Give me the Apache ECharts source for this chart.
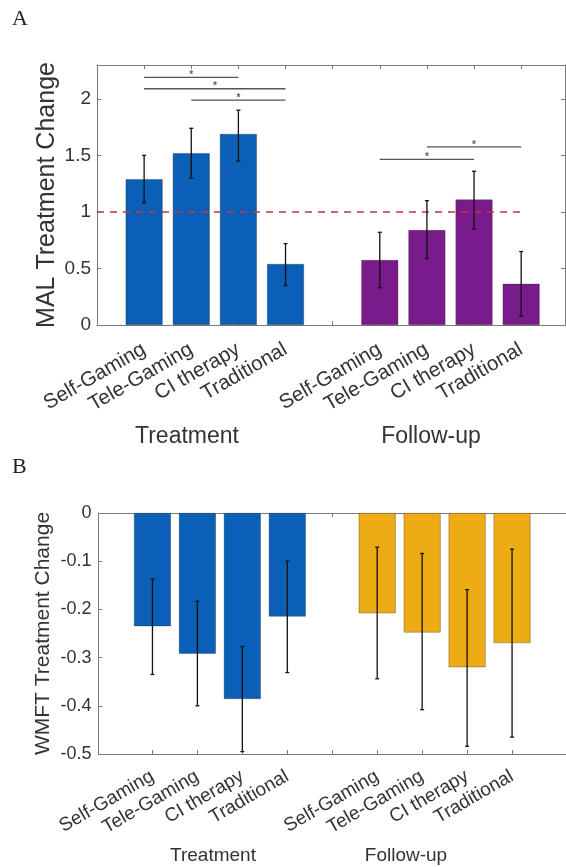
<!DOCTYPE html>
<html>
<head>
<meta charset="utf-8">
<script src="https://cdn.jsdelivr.net/npm/echarts@6/dist/echarts.min.js"></script>
<style>
html,body{margin:0;padding:0;background:#fff;}
#c{width:566px;height:867px;}
</style>
</head>
<body>
<div id="c"></div>
<script>
// ---- data ----
const categoryNames = ['', 'Self-Gaming', 'Tele-Gaming', 'CI therapy', 'Traditional', '', 'Self-Gaming', 'Tele-Gaming', 'CI therapy', 'Traditional'];
const treatmentPos = [1, 2, 3, 4];
const followPos = [6, 7, 8, 9];
const tickPos = [1, 2, 3, 4, 5, 6, 7, 8, 9];
const labelPos = [1, 2, 3, 4, 6, 7, 8, 9];
const groupLabels = ['Treatment', 'Follow-up'];

// Panel A: MAL
const malTreatment = [1.29, 1.52, 1.69, 0.54];
const malTreatmentLow = [1.08, 1.30, 1.45, 0.35];
const malTreatmentHigh = [1.50, 1.74, 1.90, 0.72];
const malFollow = [0.575, 0.84, 1.11, 0.365];
const malFollowLow = [0.33, 0.59, 0.85, 0.08];
const malFollowHigh = [0.82, 1.10, 1.36, 0.65];
const malRef = 1;
const malRefFrom = 0, malRefTo = 9;
const malTicks = ['0', '0.5', '1', '1.5', '2'];

// significance brackets (panel A)
const sigFrom = [1, 1, 2, 6, 7];
const sigTo = [3, 4, 4, 8, 9];
const sigY = [2.19, 2.09, 1.99, 1.466, 1.576];
const sigStarX = [2, 2.5, 3, 7, 8];

// Panel B: WMFT
const wmftTreatment = [-0.235, -0.292, -0.386, -0.215];
const wmftTreatmentLow = [-0.335, -0.40, -0.495, -0.331];
const wmftTreatmentHigh = [-0.137, -0.183, -0.277, -0.10];
const wmftFollow = [-0.208, -0.248, -0.32, -0.27];
const wmftFollowLow = [-0.344, -0.408, -0.484, -0.465];
const wmftFollowHigh = [-0.071, -0.084, -0.159, -0.075];

// ---- build ----
const FONT = '"Liberation Sans", Arial, Helvetica, sans-serif';
const TXT = '#333';
const AX = '#7a7a7a';
const BLUE = '#0a60b6';
const PURPLE = '#7a1b8b';
const ORANGE = '#edab14';

function pairs(xs, ys) { return xs.map((x, i) => [x, ys[i]]); }
function errs(xs, lo, hi) { return xs.map((x, i) => [x, lo[i], hi[i]]); }

function errRender(params, api) {
  const x = api.value(0);
  const p1 = api.coord([x, api.value(2)]);
  const p2 = api.coord([x, api.value(1)]);
  const cw = 2;
  const st = { stroke: '#111', lineWidth: 1.3 };
  return {
    type: 'group',
    children: [
      { type: 'line', shape: { x1: p1[0], y1: p1[1], x2: p2[0], y2: p2[1] }, style: st },
      { type: 'line', shape: { x1: p1[0] - cw, y1: p1[1], x2: p1[0] + cw, y2: p1[1] }, style: st },
      { type: 'line', shape: { x1: p2[0] - cw, y1: p2[1], x2: p2[0] + cw, y2: p2[1] }, style: st }
    ]
  };
}

function xLabelStyle(size, margin) {
  return {
    rotate: 30, fontSize: size, fontFamily: FONT, color: TXT, margin: margin,
    customValues: labelPos,
    formatter: v => categoryNames[Math.round(v)] || ''
  };
}

const grids = [
  { left: 97, top: 65, width: 468, height: 260, containLabel: false },
  { left: 98.5, top: 513, width: 472, height: 241, containLabel: false }
];

const xAxes = [
  { gridIndex: 0, type: 'value', min: 0, max: 9.93, position: 'bottom',
    axisLine: { show: true, onZero: false, lineStyle: { color: AX, width: 1 } },
    axisTick: { show: true, inside: true, length: 4, customValues: tickPos, lineStyle: { color: AX } },
    axisLabel: xLabelStyle(20.5, 23), splitLine: { show: false } },
  { gridIndex: 0, type: 'value', min: 0, max: 9.93, position: 'top',
    axisLine: { show: true, onZero: false, lineStyle: { color: AX, width: 1 } },
    axisTick: { show: true, inside: true, length: 4, customValues: tickPos, lineStyle: { color: AX } },
    axisLabel: { show: false }, splitLine: { show: false } },
  { gridIndex: 1, type: 'value', min: -0.2, max: 10.2, position: 'bottom',
    axisLine: { show: true, onZero: false, lineStyle: { color: AX, width: 1 } },
    axisTick: { show: true, inside: true, length: 4, customValues: tickPos, lineStyle: { color: AX } },
    axisLabel: xLabelStyle(19, 21), splitLine: { show: false } },
  { gridIndex: 1, type: 'value', min: -0.2, max: 10.2, position: 'top',
    axisLine: { show: true, onZero: false, lineStyle: { color: AX, width: 1 } },
    axisTick: { show: true, inside: true, length: 4, customValues: tickPos, lineStyle: { color: AX } },
    axisLabel: { show: false }, splitLine: { show: false } }
];

const yAxes = [
  { gridIndex: 0, type: 'value', min: 0, max: 2.3, interval: 0.5, position: 'left',
    name: 'MAL Treatment Change', nameLocation: 'middle', nameGap: 37, nameMoveOverlap: false,
    nameTextStyle: { fontSize: 25, fontFamily: FONT, color: TXT },
    axisLine: { show: true, onZero: false, lineStyle: { color: AX, width: 1 } },
    axisTick: { show: true, inside: true, length: 4, lineStyle: { color: AX } },
    axisLabel: { fontSize: 19, fontFamily: FONT, color: TXT, margin: 6,
      formatter: v => { const i = Math.round(v / 0.5); return malTicks[i] !== undefined ? malTicks[i] : ''; } },
    splitLine: { show: false } },
  { gridIndex: 0, type: 'value', min: 0, max: 2.3, interval: 0.5, position: 'right',
    axisLine: { show: true, onZero: false, lineStyle: { color: AX, width: 1 } },
    axisTick: { show: true, inside: true, length: 4, lineStyle: { color: AX } },
    axisLabel: { show: false }, splitLine: { show: false } },
  { gridIndex: 1, type: 'value', min: -0.5, max: 0, interval: 0.1, position: 'left',
    name: 'WMFT Treatment Change', nameLocation: 'middle', nameGap: 45, nameMoveOverlap: false,
    nameTextStyle: { fontSize: 21, fontFamily: FONT, color: TXT },
    axisLine: { show: true, onZero: false, lineStyle: { color: AX, width: 1 } },
    axisTick: { show: true, inside: true, length: 4, lineStyle: { color: AX } },
    axisLabel: { fontSize: 18, fontFamily: FONT, color: TXT, margin: 7,
      formatter: v => (Math.abs(v) < 1e-9 ? '0' : v.toFixed(1)) },
    splitLine: { show: false } }
];

const barBase = { type: 'bar', barWidth: 37, barGap: '-100%',
  itemStyle: { borderColor: 'rgba(40,40,40,0.55)', borderWidth: 0.6 } };

const series = [];
// Panel A bars
series.push(Object.assign({}, barBase, { name: 'A-treat', xAxisIndex: 0, yAxisIndex: 0,
  data: pairs(treatmentPos, malTreatment), itemStyle: Object.assign({}, barBase.itemStyle, { color: BLUE }) }));
series.push(Object.assign({}, barBase, { name: 'A-follow', xAxisIndex: 0, yAxisIndex: 0,
  data: pairs(followPos, malFollow), itemStyle: Object.assign({}, barBase.itemStyle, { color: PURPLE }) }));
// reference line
series.push({ type: 'line', xAxisIndex: 0, yAxisIndex: 0, symbol: 'none', z: 5,
  data: [[malRefFrom, malRef], [malRefTo, malRef]],
  lineStyle: { color: '#c8333a', width: 1.6, type: [7, 6] } });
// error bars A
series.push({ type: 'custom', xAxisIndex: 0, yAxisIndex: 0, z: 6, renderItem: errRender,
  encode: { x: 0, y: [1, 2] }, data: errs(treatmentPos, malTreatmentLow, malTreatmentHigh) });
series.push({ type: 'custom', xAxisIndex: 0, yAxisIndex: 0, z: 6, renderItem: errRender,
  encode: { x: 0, y: [1, 2] }, data: errs(followPos, malFollowLow, malFollowHigh) });
// significance brackets
sigFrom.forEach((f, i) => {
  series.push({ type: 'line', xAxisIndex: 0, yAxisIndex: 0, symbol: 'none', z: 5,
    data: [[f, sigY[i]], [sigTo[i], sigY[i]]], lineStyle: { color: '#555', width: 1.3 } });
});
series.push({ type: 'scatter', xAxisIndex: 0, yAxisIndex: 0, symbolSize: 0, z: 6,
  data: pairs(sigStarX, sigY),
  label: { show: true, position: 'top', distance: -3, formatter: '*', fontSize: 10, fontWeight: 'bold', color: '#333', fontFamily: FONT } });

// Panel B bars
series.push(Object.assign({}, barBase, { name: 'B-treat', xAxisIndex: 2, yAxisIndex: 2,
  data: pairs(treatmentPos, wmftTreatment), itemStyle: Object.assign({}, barBase.itemStyle, { color: BLUE }) }));
series.push(Object.assign({}, barBase, { name: 'B-follow', xAxisIndex: 2, yAxisIndex: 2,
  data: pairs(followPos, wmftFollow), itemStyle: Object.assign({}, barBase.itemStyle, { color: ORANGE }) }));
series.push({ type: 'custom', xAxisIndex: 2, yAxisIndex: 2, z: 6, renderItem: errRender,
  encode: { x: 0, y: [1, 2] }, data: errs(treatmentPos, wmftTreatmentLow, wmftTreatmentHigh) });
series.push({ type: 'custom', xAxisIndex: 2, yAxisIndex: 2, z: 6, renderItem: errRender,
  encode: { x: 0, y: [1, 2] }, data: errs(followPos, wmftFollowLow, wmftFollowHigh) });

const serif = '"Liberation Serif", "DejaVu Serif", serif';
const option = {
  animation: false,
  backgroundColor: '#fff',
  grid: grids,
  xAxis: xAxes,
  yAxis: yAxes,
  series: series,
  graphic: [
    { type: 'text', left: 12, top: 8, style: { text: 'A', font: '22px ' + serif, fill: '#222' } },
    { type: 'text', left: 12, top: 456, style: { text: 'B', font: '22px ' + serif, fill: '#222' } },
    { type: 'text', x: 187, y: 437, style: { text: groupLabels[0], font: '23px ' + FONT, fill: TXT, textAlign: 'center', textVerticalAlign: 'middle' } },
    { type: 'text', x: 431, y: 437, style: { text: groupLabels[1], font: '23px ' + FONT, fill: TXT, textAlign: 'center', textVerticalAlign: 'middle' } },
    { type: 'text', x: 213, y: 856, style: { text: groupLabels[0], font: '19px ' + FONT, fill: TXT, textAlign: 'center', textVerticalAlign: 'middle' } },
    { type: 'text', x: 406, y: 856, style: { text: groupLabels[1], font: '19px ' + FONT, fill: TXT, textAlign: 'center', textVerticalAlign: 'middle' } }
  ]
};

const chart = echarts.init(document.getElementById('c'), null, { renderer: 'canvas' });
chart.setOption(option);
</script>
</body>
</html>
